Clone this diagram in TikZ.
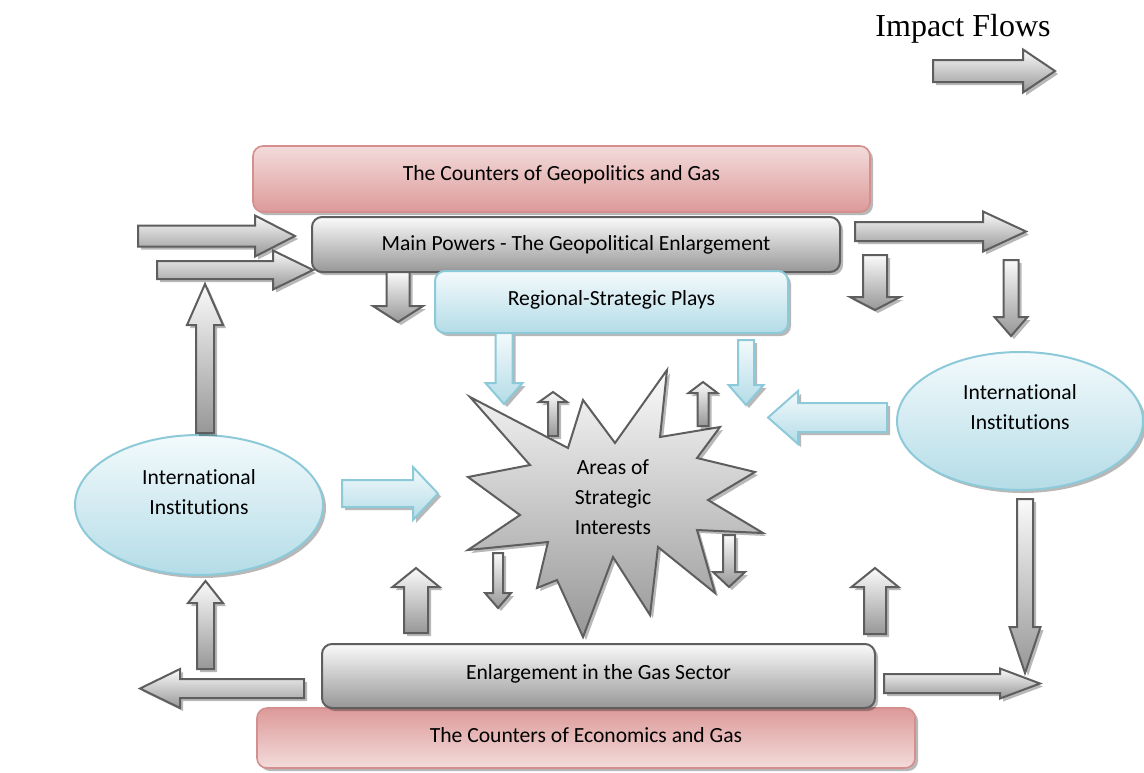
\documentclass[tikz,border=0pt]{standalone}
\usepackage{fontspec}
\setmainfont[RawFeature={-liga;-clig}]{Carlito}
\newfontfamily\timesfont{Liberation Serif}
\usetikzlibrary{shapes.geometric,shadows}
\definecolor{gborder}{HTML}{5E5E5E}
\definecolor{gtop}{HTML}{FAFAFA}
\definecolor{gbot}{HTML}{979797}
\definecolor{btop}{HTML}{F3FAFC}
\definecolor{bbot}{HTML}{B4DCE7}
\definecolor{bborder}{HTML}{8DCAD9}
\definecolor{ptop}{HTML}{F2DCDB}
\definecolor{pbot}{HTML}{DC9A99}
\definecolor{pborder}{HTML}{D48F8E}
\newcommand\diagfont{\fontsize{10.8}{15}\selectfont}
% horizontal block arrow: style, tail x, head-base x, tip x, centre y, half shaft, half head
\newcommand\harr[7]{\path[#1] (#2,#5-#6) -- (#3,#5-#6) -- (#3,#5-#7) -- (#4,#5) -- (#3,#5+#7) -- (#3,#5+#6) -- (#2,#5+#6) -- cycle;}
% vertical block arrow: style, tail y, head-base y, tip y, centre x, half shaft, half head
\newcommand\varr[7]{\path[#1] (#5-#6,#2) -- (#5-#6,#3) -- (#5-#7,#3) -- (#5,#4) -- (#5+#7,#3) -- (#5+#6,#3) -- (#5+#6,#2) -- cycle;}
\tikzset{
  myshadow/.style={drop shadow={shadow xshift=1.5pt,shadow yshift=-1.5pt,fill=black,opacity=0.28}},
  grayarrow/.style={draw=gborder,line width=1pt,top color=gtop,bottom color=gbot,myshadow},
  bluearrow/.style={draw=bborder,line width=1pt,top color=btop,bottom color=bbot,myshadow},
  graybox/.style={rectangle,rounded corners=5pt,draw=gborder,line width=1pt,top color=gtop,bottom color=gbot,myshadow,font=\diagfont,inner sep=0pt},
  bluebox/.style={rectangle,rounded corners=5pt,draw=bborder,line width=1pt,top color=btop,bottom color=bbot,myshadow,font=\diagfont,inner sep=0pt},
  pinkboxA/.style={rectangle,rounded corners=5pt,draw=pborder,line width=0.8pt,top color=ptop,bottom color=pbot,myshadow,font=\diagfont,inner sep=0pt},
  pinkboxB/.style={rectangle,rounded corners=5pt,draw=pborder,line width=0.8pt,top color=pbot,bottom color=ptop,myshadow,font=\diagfont,inner sep=0pt},
  blueell/.style={ellipse,draw=bborder,line width=1pt,top color=btop,bottom color=bbot,myshadow,font=\diagfont,align=center,inner sep=0pt},
  starshape/.style={draw=gborder,line width=1pt,top color=gtop,bottom color=gbot,myshadow,line join=miter}
}
\begin{document}
\begin{tikzpicture}[x=0.5pt,y=-0.5pt]
\useasboundingbox (0,0) rectangle (1144,772);
% legend
\node[font=\timesfont\fontsize{16}{18}\selectfont] (legend) at (963,29) {Impact Flows};
\harr{grayarrow}{933}{1023}{1055}{71}{11}{21.5}
% top boxes
\node[pinkboxA,minimum width=308.5pt,minimum height=33pt] (geo) at (561.5,179) {\raisebox{6pt}{The Counters of Geopolitics and Gas}};
\node[graybox,minimum width=264pt,minimum height=27.5pt] (main) at (576,244.5) {Main Powers - The Geopolitical Enlargement};
\node[bluebox,minimum width=176.5pt,minimum height=31pt] (reg) at (611.5,302) {\raisebox{4pt}{Regional-Strategic Plays}};
% bottom boxes
\node[pinkboxB,minimum width=329pt,minimum height=30pt] (econ) at (586,738) {\raisebox{3.5pt}{The Counters of Economics and Gas}};
\node[graybox,minimum width=276.5pt,minimum height=32pt] (gas) at (598.5,676) {\raisebox{4.5pt}{Enlargement in the Gas Sector}};
% ellipses
\node[blueell,minimum width=124pt,minimum height=70pt] (instL) at (199,505) {\raisebox{21.5pt}{\parbox{80pt}{\centering International\\Institutions}}};
\node[blueell,minimum width=123pt,minimum height=69pt] (instR) at (1020,421) {\raisebox{22.5pt}{\parbox{80pt}{\centering International\\Institutions}}};
% star
\path[starshape] (470,397) -- (568,448) -- (583,400) -- (615,443) -- (667,370) -- (660,437) -- (720,427) -- (697,458) -- (755,472) -- (708,500) -- (763,533) -- (697,530) -- (715,593) -- (658,547) -- (650,615) -- (613,557) -- (583,637) -- (557,580) -- (537,588) -- (548,542) -- (468,550) -- (520,515) -- (468,477) -- (530,465) -- cycle;
\node[font=\diagfont,align=center] (areas) at (613,497) {Areas of\\Strategic\\Interests};
% gray horizontal arrows
\harr{grayarrow}{138}{255}{295}{236}{10.5}{20.5}
\harr{grayarrow}{157}{273}{313}{270}{9}{19.5}
\harr{grayarrow}{855}{983}{1026}{231.5}{9.5}{20}
\harr{grayarrow}{304}{180}{140}{688.5}{9.5}{19.5}
\harr{grayarrow}{884}{1000}{1040}{683.5}{9.5}{15}
% blue horizontal arrows
\harr{bluearrow}{342}{413}{438}{493.5}{13.5}{26.5}
\harr{bluearrow}{887}{798}{768}{417.5}{14.5}{26.5}
% gray vertical arrows
\varr{grayarrow}{433}{325}{284}{205}{9}{18}
\varr{grayarrow}{272}{306}{322}{398}{11.5}{25}
\varr{grayarrow}{255}{297}{310}{875}{12}{25}
\varr{grayarrow}{260}{317}{336}{1011}{7.5}{16.5}
\varr{grayarrow}{436}{402}{392}{553}{5}{14}
\varr{grayarrow}{426}{393}{382}{703}{5.5}{14.5}
\varr{grayarrow}{553}{593}{608}{498}{5}{13}
\varr{grayarrow}{535}{572}{587}{729}{6}{16}
\varr{grayarrow}{669}{603}{581}{205.5}{8.5}{17.5}
\varr{grayarrow}{633}{587}{568}{416}{12}{23.5}
\varr{grayarrow}{634}{587}{568}{875}{11}{23.5}
\varr{grayarrow}{499}{627}{673}{1025}{8}{15.5}
% blue vertical arrows
\varr{bluearrow}{333}{383}{404}{504}{8.5}{18.5}
\varr{bluearrow}{340}{385}{405}{746}{8}{17.5}
\end{tikzpicture}
\end{document}
